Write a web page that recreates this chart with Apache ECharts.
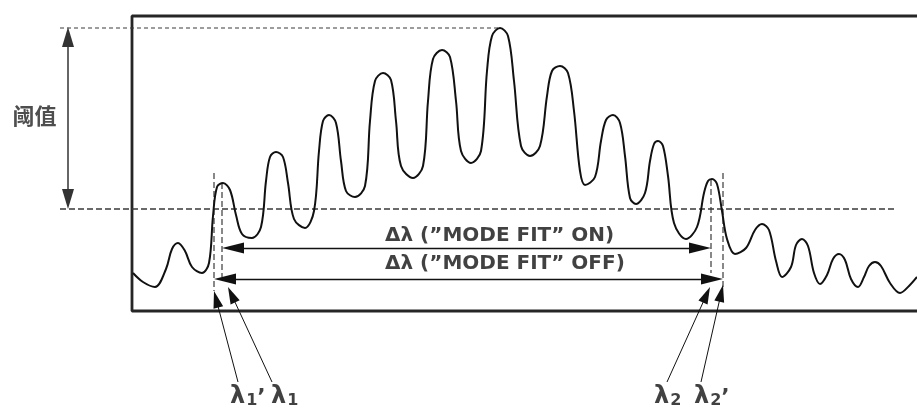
<!DOCTYPE html>
<html>
<head>
<meta charset="utf-8">
<script src="https://cdn.jsdelivr.net/npm/echarts@6/dist/echarts.min.js"></script>
<style>
html,body{margin:0;padding:0;background:#fff;}
#c{width:917px;height:408px;}
</style>
</head>
<body>
<div id="c"></div>
<script>
// ---- data (wavelength axis in display units, intensity above box floor) ----
const wavelength = [133,143,155,166,172,178,185,192,202,209,213,217,223,230,236,242,252,261,266,270,276,283,288,294,305,314,319,323,329,336,341,346,355,365,370,375,383,391,396,401,413,423,428,433,442,450,456,461,471,481,487,492,500,508,514,521,530,540,547,552,560,568,574,580,585,595,601,606,613,620,625,630,636,645,650,654,658,663,668,674,686,697,704,708,712,717,722,727,735,746,755,762,769,776,782,791,796,802,808,814,820,827,833,839,845,851,858,864,869,875,881,890,900,909,917];
const intensity  = [38,29,24,42,62,68,60,44,38,48,95,124,128,121,96,77,73,84,130,154,159,154,128,92,83,100,160,190,196,188,150,120,114,125,190,230,238,231,190,145,133,145,210,252,261,254,210,160,148,160,240,275,283,275,230,165,155,165,215,240,245,238,200,140,126,134,170,191,196,188,155,113,107,118,150,167,170,165,135,88,72,84,118,130,132,127,100,72,57,63,81,87,81,50,34,44,66,72,65,38,27,36,52,57,51,32,24,34,45,49,45,28,18,25,34];
const threshold = 102;
const lambda1p = 214, lambda1 = 222, lambda2 = 711, lambda2p = 723;
const windowX = [132, 917];
const windowY = [0, 295];
const labelThreshold = '阈值';
const labelOn = 'Δλ (”MODE FIT” ON)';
const labelOff = 'Δλ (”MODE FIT” OFF)';

// ---- derived ----
const peakLevel = Math.max(...intensity);
const peakX = wavelength[intensity.indexOf(peakLevel)];
const spectrum = wavelength.map((w, i) => [w, intensity[i]]);

const DASH = '#3a3a3a';
const INK = '#111';
const FONT = 'DejaVu Sans';

function seg(pts, color, width, type) {
  return {
    type: 'line', data: pts, symbol: 'none', silent: true, animation: false,
    lineStyle: {color: color, width: width, type: type || 'solid'}, z: 3
  };
}
// shorten a segment so that a centred head ends with its tip on the given point
function trim(a, b, cutA, cutB) {
  const dx = b[0] - a[0], dy = b[1] - a[1];
  const len = Math.sqrt(dx * dx + dy * dy);
  const ux = dx / len, uy = dy / len;
  return [[a[0] + ux * cutA, a[1] + uy * cutA], [b[0] - ux * cutB, b[1] - uy * cutB]];
}
function arrows(lines, sym, size, color, width) {
  const h = size[1] / 2;
  return {
    type: 'line', data: [], silent: true, animation: false, z: 6,
    markLine: {
      silent: true, animation: false,
      symbol: sym, symbolSize: size,
      label: {show: false}, emphasis: {disabled: true},
      lineStyle: {color: color, width: width, type: 'solid'},
      data: lines.map(l => {
        const t = trim(l[0], l[1], sym[0] === 'none' ? 0 : h, sym[1] === 'none' ? 0 : h);
        return [{coord: t[0]}, {coord: t[1]}];
      })
    }
  };
}
function textPt(x, y, text, label) {
  return {value: [x, y], label: Object.assign({show: true, formatter: text}, label)};
}

const onY = 63, offY = 32, tailY = -71, textX = 385;

const chart = echarts.init(document.getElementById('c'), null, {renderer: 'canvas'});
chart.setOption({
  animation: false,
  backgroundColor: '#fff',
  grid: {left: 0, right: 0, top: 0, bottom: 0},
  xAxis: {type: 'value', min: 0, max: 917, show: false},
  yAxis: {type: 'value', min: -97, max: 311, show: false},
  series: [
    // frame
    seg([[windowX[1], windowY[1]], [windowX[0], windowY[1]], [windowX[0], windowY[0]], [windowX[1], windowY[0]]], '#262626', 2.8),
    // spectrum
    {type: 'line', data: spectrum, smooth: 0.35, symbol: 'none', silent: true, animation: false,
     lineStyle: {color: INK, width: 2}, z: 5},
    // dashed reference lines
    seg([[60, peakLevel], [peakX, peakLevel]], DASH, 1, [4, 3]),
    seg([[60, threshold], [894, threshold]], DASH, 1.4, [6, 3]),
    seg([[lambda1p, 138], [lambda1p, 20]], DASH, 1.2, [6, 3]),
    seg([[lambda1, 128], [lambda1, 34]], DASH, 1.2, [6, 3]),
    seg([[lambda2, 131], [lambda2, 38]], DASH, 1.2, [6, 3]),
    seg([[lambda2p, 138], [lambda2p, 24]], DASH, 1.2, [6, 3]),
    // threshold double arrow
    arrows([[[68, peakLevel + 1], [68, threshold]]], ['triangle', 'triangle'], [12, 20], '#333', 1.5),
    // delta-lambda arrows
    arrows([[[lambda1, onY], [lambda2, onY]], [[lambda1p, offY], [lambda2p, offY]]], ['triangle', 'triangle'], [11, 22], INK, 1.3),
    // pointers
    arrows([
      [[238, tailY], [lambda1p, 20]],
      [[272, tailY], [lambda1 + 6, 24]],
      [[667, tailY], [lambda2 - 1, 24]],
      [[701, tailY], [lambda2p, 26]]
    ], ['none', 'triangle'], [10, 17], INK, 1),
    // texts
    {
      type: 'scatter', symbolSize: 1, silent: true, animation: false,
      itemStyle: {color: 'rgba(0,0,0,0)'}, z: 10,
      data: [
        textPt(68, (peakLevel + threshold) / 2 + 3, labelThreshold,
          {position: 'left', distance: 11, fontFamily: 'Noto Sans CJK SC', fontWeight: 'bold', fontSize: 22, color: '#222'}),
        textPt(textX, onY + 12, labelOn,
          {position: 'inside', align: 'left', verticalAlign: 'middle', fontFamily: FONT, fontWeight: 'bold', fontSize: 20, color: INK}),
        textPt(textX, offY + 15, labelOff,
          {position: 'inside', align: 'left', verticalAlign: 'middle', fontFamily: FONT, fontWeight: 'bold', fontSize: 20, color: INK}),
        textPt(230, -84, '{g|λ}{s|1}{p|’}', {position: 'inside', align: 'left', verticalAlign: 'middle'}),
        textPt(271, -84, '{g|λ}{s|1}', {position: 'inside', align: 'left', verticalAlign: 'middle'}),
        textPt(654, -84, '{g|λ}{s|2}', {position: 'inside', align: 'left', verticalAlign: 'middle'}),
        textPt(694, -84, '{g|λ}{s|2}{p|’}', {position: 'inside', align: 'left', verticalAlign: 'middle'})
      ],
      label: {
        rich: {
          g: {fontFamily: FONT, fontWeight: 'bold', fontSize: 24, color: INK, lineHeight: 28, verticalAlign: 'bottom'},
          s: {fontFamily: FONT, fontWeight: 'bold', fontSize: 16, color: INK, lineHeight: 28, verticalAlign: 'bottom', padding: [0, 0, 0, 1]},
          p: {fontFamily: FONT, fontWeight: 'bold', fontSize: 22, color: INK, lineHeight: 28, verticalAlign: 'bottom', padding: [0, 2, 0, 0]}
        }
      }
    }
  ]
});
</script>
</body>
</html>
